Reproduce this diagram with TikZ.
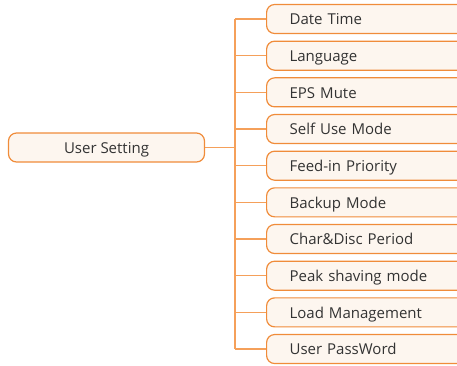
\documentclass[tikz,border=0pt]{standalone}
\usepackage{fontspec}
\setmainfont{Open Sans}
\definecolor{boxline}{RGB}{240,140,58}
\definecolor{boxfill}{RGB}{253,246,239}
\definecolor{wire}{RGB}{245,160,90}
\definecolor{label}{RGB}{51,51,51}

\begin{document}
\begin{tikzpicture}[x=1pt, y=-1pt,
    menubox/.style={draw=boxline, fill=boxfill, line width=1.2pt, rounded corners=8pt,
        minimum height=29pt, text=label, font=\fontsize{15}{17}\selectfont,
        text height=12.5pt, text depth=1pt},
    itembox/.style={menubox, anchor=west, align=left, text width=190pt, inner xsep=23pt},
    wire/.style={draw=wire, line width=1.2pt}]
    \useasboundingbox (0,0) rectangle (457,365);
    \clip (0,0) rectangle (457,365);

    % Root box
    \node[menubox, minimum width=196pt] (root) at (106.5,147.5) {User Setting};

    % Menu items
    \foreach \name [count=\i] in {Date Time, Language, EPS Mute, Self Use Mode,
        Feed-in Priority, Backup Mode, Char\&Disc Period, Peak shaving mode,
        Load Management, User PassWord}
        \node[itembox] (item\i) at (266,{19+(\i-1)*36.67}) {\name};

    % Tree connectors
    \coordinate (fork) at (235,147.5);
    \draw[wire] (root.east) -- (fork) (fork |- item1.west) -- (fork |- item10.west);
    \foreach \i in {1,...,10}
        \draw[wire] (fork |- item\i.west) -- (item\i.west);
\end{tikzpicture}
\end{document}
